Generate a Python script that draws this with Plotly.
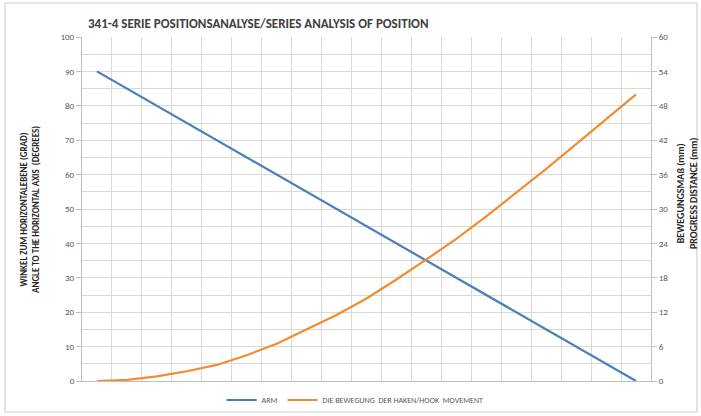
import plotly.graph_objects as go

# Arm angle (degrees) at each measured position, and hook travel (mm)
arm_angle = [90, 85, 80, 75, 70, 65, 60, 55, 50, 45, 40, 35, 30, 25, 20, 15, 10, 5, 0]
hook_travel = [0, 0.2, 0.8, 1.7, 2.8, 4.5, 6.5, 9.0, 11.5, 14.4, 17.7, 21.2,
               24.8, 28.7, 32.8, 37.0, 41.3, 45.6, 50.0]
positions = list(range(len(arm_angle)))

left_ticks = list(range(0, 101, 10))
right_ticks = list(range(0, 61, 6))

BLUE = "#4A7EBB"
ORANGE = "#F28C30"
GRID = "#D9D9D9"
LABEL = "#595959"
FONT = "Carlito, 'Liberation Sans Narrow', 'Open Sans', sans-serif"

W, H = 701, 416
L, R, T, B = 82, 50, 37, 35
pw, ph = W - L - R, H - T - B


def px(x):
    return (x - L) / pw


def py(y):
    return (H - B - y) / ph


fig = go.Figure()
fig.add_trace(go.Scatter(x=positions, y=arm_angle, mode="lines", name="ARM",
                         line=dict(color=BLUE, width=2.2), yaxis="y"))
fig.add_trace(go.Scatter(x=positions, y=hook_travel, mode="lines",
                         name="DIE BEWEGUNG  DER HAKEN/HOOK  MOVEMENT",
                         line=dict(color=ORANGE, width=2.2), yaxis="y2"))

fig.update_layout(
    width=W, height=H,
    margin=dict(l=L, r=R, t=T, b=B, autoexpand=False),
    paper_bgcolor="white", plot_bgcolor="white",
    font=dict(family=FONT, color=LABEL, size=9),
    showlegend=True,
    legend=dict(orientation="h", x=0.48, xanchor="center", y=py(400), yanchor="middle",
                font=dict(size=8, color=LABEL), itemwidth=30, bgcolor="rgba(0,0,0,0)"),
    xaxis=dict(range=[-0.5, len(positions) - 0.5], tick0=-0.5, dtick=1,
               showticklabels=False, showgrid=True, gridcolor=GRID, gridwidth=1,
               zeroline=False, showline=True, linecolor="#BFBFBF", ticks=""),
    yaxis=dict(range=[0, 100], tickvals=left_ticks, showgrid=True, gridcolor=GRID,
               gridwidth=1, zeroline=False, showline=True, linecolor="#BFBFBF",
               ticks="outside", ticklen=5, tickcolor="#BFBFBF",
               tickfont=dict(size=9, color=LABEL),
               minor=dict(dtick=5, showgrid=True, gridcolor=GRID, ticks="")),
    yaxis2=dict(range=[0, 60], tickvals=right_ticks, overlaying="y", side="right",
                showgrid=False, zeroline=False, showline=True, linecolor="#BFBFBF",
                ticks="outside", ticklen=5, tickcolor="#BFBFBF",
                tickfont=dict(size=9, color=LABEL)),
)

# Chart frame
fig.add_shape(type="rect", xref="paper", yref="paper",
              x0=px(5), x1=px(697), y0=py(412), y1=py(3),
              line=dict(color="#D0D0D0", width=1.2), layer="below")

# Title
fig.add_annotation(text="<b>341-4 SERIE POSITIONSANALYSE/SERIES ANALYSIS OF POSITION</b>",
                   xref="paper", yref="paper", x=px(86), y=py(24),
                   xanchor="left", yanchor="middle", showarrow=False,
                   font=dict(size=13, color="#404040", family=FONT))

# Left axis title
fig.add_annotation(text="<b>WINKEL ZUM HORIZONTALEBENE (GRAD)<br>ANGLE TO THE HORIZONTAL AXIS  (DEGREES)</b>",
                   xref="paper", yref="paper", x=px(29), y=py(210),
                   xanchor="center", yanchor="middle", showarrow=False, textangle=-90,
                   font=dict(size=9, color="#262626", family=FONT))

# Right axis title
fig.add_annotation(text="<b>BEWEGUNGSMAß (mm)<br>PROGRESS DISTANCE (mm)</b>",
                   xref="paper", yref="paper", x=px(687), y=py(194),
                   xanchor="center", yanchor="middle", showarrow=False, textangle=-90,
                   font=dict(size=10, color="#262626", family=FONT))

fig.write_html("out.html")
